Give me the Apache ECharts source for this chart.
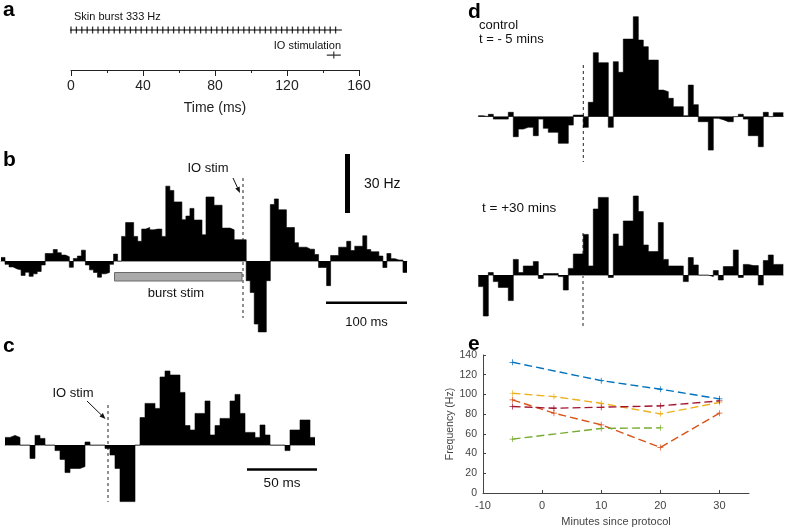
<!DOCTYPE html>
<html><head><meta charset="utf-8">
<script src="https://cdn.jsdelivr.net/npm/echarts@6.0.0/dist/echarts.min.js"></script>
<style>html,body{margin:0;padding:0;background:#fff}#c{width:787px;height:528px}</style>
</head><body><div id="c"></div>
<script>
// ---------- DATA ----------
// panel a: stimulation timing (ms)
const aTickValues = [0, 40, 80, 120, 160];
const skinBurstTimes = [0,3,6,9,12,15,18,21,24,27,30,33,36,39,42,45,48,51,54,57,60,63,66,69,72,75,78,81,84,87,90,93,96,99,102,105,108,111,114,117,120,123,126,129,132,135,138,141,144,147];
const skinBurstExtent = [-3.5, 150.5];
const ioStimTimes = [146];
// panel b: PSTH (Hz relative to baseline), ~5 ms bins
const histB = [1.8,-1.7,-3,-4,-4.5,-7.3,-5.7,-7.8,-6.5,-5.3,
  -2,3.8,3.8,5.8,4.2,3,2.2,-3.2,1.3,2.5,
  5.5,-2,-4.5,-5.8,-8.2,-6.5,-5.8,-1.7,3.5,0,
  12.5,19.5,19.5,12.5,10,16.2,17,15.8,16.2,16.2,
  12.5,38,35.8,30,30,21,22.8,26.7,20.8,20.8,
  13.3,32.5,32.5,28.3,28.3,16.7,16.7,15.8,10.8,10.8,
  10.8,-10,-16,-32,-36,-36,-10,28.7,31.5,26,
  26,17,17,9.3,7,7,6,6,3.3,-3.3,
  -3.3,-12.5,2.8,2.8,7,7,10,5.3,7.5,7.5,
  12.8,5.8,4.7,4.7,2.5,-3.3,3.8,1.2,0.5,0.5,-5.8];
// panel c
const histC = [3.8,4.8,3.8,0,0,-6.7,4.8,3.3,0,0,
  -2.8,-7.2,-13.8,-11.7,-11.7,-10.8,1.5,0,0,0,
  -1.7,-5,-11.7,-28.3,-28.3,-28.3,0,13.7,20.8,20.8,
  18.3,34,37,35,35,26.3,9.7,7.5,15.8,15.8,
  22,5,9.7,13.3,13.3,22,25.3,15.8,6.3,6.3,
  3.8,10,5,0,0,0,-2.8,7.5,7.5,12.5,12.5,3.8];
// panel d: control (t = -5 min) and t = +30 min
const histDControl = [0.5,0,1.2,-1.2,-1.2,-1.2,2.2,-10,-6.2,-5.3,
  -5.3,-9.5,-1.2,-5.8,-7.8,-7.8,-13.3,-13.3,-4.2,0.8,
  0.8,-5.3,7.2,32,27,27,-5.3,27.5,22.2,38.8,
  38.8,50,38.3,35,28.3,28.3,13.3,12.5,9.2,5,
  5,0.5,15.8,6,-2.5,-2.5,-16.7,-0.8,-1.5,-2.5,
  -2.5,0,1.2,-1.2,-9.5,-9.5,-15,2.2,0,2,2];
const histD30 = [-5.8,-20.5,1.2,-3.3,-6.2,-6.2,-12.8,7.8,1.2,4.5,
  4.5,6.7,-1.7,0.7,0.7,0.7,-0.8,-7.5,3.3,10.5,
  10.5,20.3,4.5,33,38.8,38.8,-1.2,20.5,14.5,27,
  27,39.5,31.7,15,11.7,11.7,26.2,7.8,4.5,4.5,
  4.5,-3.3,8.7,5,0,0,-0.8,2.2,-2.5,4.2,
  4.2,12.5,-1.2,5.3,4.7,4.7,-5,7.2,10,5.3,5.3];
// panel e: frequency vs minutes since protocol
const eMinutes = [-5, 2, 10, 20, 30];
const eCell1 = [132.6, null, 114, 105.3, 95.5];
const eCell2 = [94.5, 81, 69.2, 46.2, 81];
const eCell3 = [101.2, 97.8, 91, 80.3, 91.8];
const eCell4 = [54.7, null, 65.5, 66.1, null];
const eCell5 = [87.7, 86, 87, 88.4, 93.5];
const eXTicks = [-10, 0, 10, 20, 30];

// ---------- CHART ----------
const FONT = 'Liberation Sans, Arial, Helvetica, sans-serif';
const chart = echarts.init(document.getElementById('c'));

function pairs(xs, ys){ const out=[]; xs.forEach((x,i)=>{ if(ys[i]!=null) out.push([x, ys[i]]); }); return out; }
// step histogram points: bin i spans [i, i+1]
function stepData(arr){ const out = arr.map((v,i)=>[i, v]); out.push([arr.length, arr[arr.length-1]]); return out; }

const grids = [
  {left:71, top:20, width:288, height:50},          // a
  {left:1, top:182.2, width:406, height:157.6},     // b
  {left:5, top:365, width:310, height:140},         // c
  {left:478.3, top:6.7, width:305, height:160},     // d control
  {left:478.3, top:185, width:305, height:140},     // d +30
  {left:483, top:355, width:266, height:138}        // e
].map(g => Object.assign({outerBoundsMode:'none', containLabel:false}, g));

function histX(gi, data){
  return {gridIndex:gi, type:'value', min:0, max:data.length,
    axisLine:{show:true, onZero:true, lineStyle:{color:'#9a9a9a', width:1}},
    axisTick:{show:false}, axisLabel:{show:false}, splitLine:{show:false}};
}
function histY(gi, mn, mx){
  return {gridIndex:gi, type:'value', min:mn, max:mx, show:false, splitLine:{show:false}};
}
function histS(gi, data){
  return {type:'line', xAxisIndex:gi, yAxisIndex:gi, data:stepData(data), step:'end',
    symbol:'none', showSymbol:false, clip:false,
    lineStyle:{color:'#000', width:0.6}, areaStyle:{color:'#000', opacity:1, origin:'auto'},
    silent:true, animation:false};
}

const eColors = ['#0072BD','#D95319','#EDB120','#77AC30','#A2142F'];
const eData = [eCell1, eCell2, eCell3, eCell4, eCell5];
const plusPath = 'path://M-0.6,-5H0.6V5H-0.6Z M-5,-0.6H5V0.6H-5Z';

const xAxes = [
  {gridIndex:0, type:'value', min:0, max:160, interval:40,
    axisLine:{show:true, lineStyle:{color:'#222', width:1}},
    axisTick:{show:true, length:6, customValues:aTickValues, lineStyle:{color:'#222'}},
    minorTick:{show:true, splitNumber:2, length:3, lineStyle:{color:'#222'}},
    axisLabel:{fontSize:14, color:'#222', margin:9, fontFamily:FONT},
    splitLine:{show:false}, minorSplitLine:{show:false},
    name:'Time (ms)', nameLocation:'middle', nameGap:31,
    nameTextStyle:{fontSize:14, color:'#222', fontFamily:FONT}},
  histX(1, histB), histX(2, histC), histX(3, histDControl), histX(4, histD30),
  {gridIndex:5, type:'value', min:-10, max:35, interval:10,
    axisLine:{show:true, onZero:false, lineStyle:{color:'#444', width:1}},
    axisTick:{show:true, inside:true, length:3, customValues:eXTicks, lineStyle:{color:'#444'}},
    axisLabel:{fontSize:11, color:'#444', margin:7, fontFamily:FONT, customValues:eXTicks},
    splitLine:{show:false},
    name:'Minutes since protocol', nameLocation:'middle', nameGap:23,
    nameTextStyle:{fontSize:11, color:'#444', fontFamily:FONT}}
];
const yAxes = [
  {gridIndex:0, type:'value', min:0, max:50, show:false},
  histY(1, -40, 40), histY(2, -30, 40), histY(3, -25, 55), histY(4, -25, 45),
  {gridIndex:5, type:'value', min:0, max:140, interval:20,
    axisLine:{show:true, onZero:false, lineStyle:{color:'#444', width:1}},
    axisTick:{show:true, inside:true, length:3, lineStyle:{color:'#444'}},
    axisLabel:{fontSize:10.5, color:'#444', margin:6, fontFamily:FONT},
    splitLine:{show:false},
    name:'Frequency (Hz)', nameLocation:'middle', nameGap:14, nameRotate:90,
    nameTextStyle:{fontSize:10.5, color:'#444', fontFamily:FONT}}
];

const SKIN_LEVEL = 40, IO_LEVEL = 15;
const series = [
  {type:'line', xAxisIndex:0, yAxisIndex:0, data:skinBurstExtent.map(t=>[t, SKIN_LEVEL]),
    symbol:'none', clip:false, lineStyle:{color:'#000', width:1}, animation:false, silent:true},
  {type:'scatter', xAxisIndex:0, yAxisIndex:0, data:skinBurstTimes.map(t=>[t, SKIN_LEVEL]),
    symbol:'rect', symbolSize:[1.3, 7], itemStyle:{color:'#000'}, animation:false, silent:true},
  {type:'scatter', xAxisIndex:0, yAxisIndex:0, data:ioStimTimes.map(t=>[t, IO_LEVEL]),
    symbol:'path://M0,3H14V4.2H0Z M6.4,0H7.6V7H6.4Z', symbolSize:[14,7], itemStyle:{color:'#000'}, animation:false, silent:true},
  histS(1, histB), histS(2, histC), histS(3, histDControl), histS(4, histD30)
];
eData.forEach((d, i) => {
  series.push({type:'line', xAxisIndex:5, yAxisIndex:5, data:pairs(eMinutes, d),
    symbol:plusPath, symbolSize:6, showSymbol:true,
    itemStyle:{color:eColors[i]}, lineStyle:{color:eColors[i], width:1.4, type:[8,4]},
    animation:false, silent:true});
});

// ---------- annotations ----------
function txt(x, y, s, size, align, opts){
  return Object.assign({type:'text', x:x, y:y, silent:true,
    style:{text:s, fontSize:size, fontFamily:FONT, fill:'#111', align:align||'left', verticalAlign:'middle'}}, opts||{});
}
function letter(x, y, s){
  return {type:'text', x:x, y:y, silent:true,
    style:{text:s, fontSize:21, fontWeight:'bold', fontFamily:FONT, fill:'#000', align:'left', verticalAlign:'middle'}};
}
function dashed(x, y1, y2){
  return {type:'line', silent:true, shape:{x1:x, y1:y1, x2:x, y2:y2},
    style:{stroke:'#222', lineWidth:1, lineDash:[3,3]}};
}
function arrow(x1, y1, x2, y2){
  const dx=x2-x1, dy=y2-y1, L=Math.hypot(dx,dy), ux=dx/L, uy=dy/L, hl=6, hw=2.4;
  const bx=x2-ux*hl, by=y2-uy*hl;
  return [
    {type:'line', silent:true, shape:{x1:x1, y1:y1, x2:bx, y2:by}, style:{stroke:'#111', lineWidth:1}},
    {type:'polygon', silent:true, shape:{points:[[x2,y2],[bx-uy*hw, by+ux*hw],[bx+uy*hw, by-ux*hw]]}, style:{fill:'#111'}}
  ];
}
function rect(x, y, w, h, fill, stroke){
  return {type:'rect', silent:true, shape:{x:x, y:y, width:w, height:h},
    style:{fill:fill, stroke:stroke||null, lineWidth:stroke?1:0}};
}

const graphics = [
  letter(3, 10, 'a'), letter(3, 160, 'b'), letter(3, 346, 'c'),
  letter(468, 12, 'd'), letter(468, 344, 'e'),
  // a
  txt(74, 17, 'Skin burst 333 Hz', 11),
  txt(341, 45.5, 'IO stimulation', 11, 'right'),
  // b
  txt(208, 168, 'IO stim', 13, 'center'),
  ...arrow(233, 178, 240, 193),
  dashed(243, 178, 318),
  rect(114.5, 272.5, 127.5, 8.5, '#aaaaaa', '#6a6a6a'),
  txt(176, 293, 'burst stim', 13, 'center'),
  rect(345, 154, 5, 59, '#000'),
  txt(364, 184, '30 Hz', 14),
  rect(326, 301.5, 81, 2.5, '#000'),
  txt(366.5, 322, '100 ms', 13, 'center'),
  // c
  txt(73, 393.5, 'IO stim', 13, 'center'),
  ...arrow(87, 401, 105.5, 419),
  dashed(108, 405, 502),
  rect(247, 468.3, 70, 2.5, '#000'),
  txt(282, 483, '50 ms', 13.5, 'center'),
  // d
  txt(479, 25, 'control', 13),
  txt(479, 39.5, 't = - 5 mins', 13),
  dashed(583.3, 65, 162),
  txt(482, 208, 't = +30 mins', 13.5),
  dashed(583, 233, 328)
];

chart.setOption({
  animation:false,
  backgroundColor:'#fff',
  grid:grids, xAxis:xAxes, yAxis:yAxes, series:series,
  graphic:{elements:graphics}
});
</script></body></html>
